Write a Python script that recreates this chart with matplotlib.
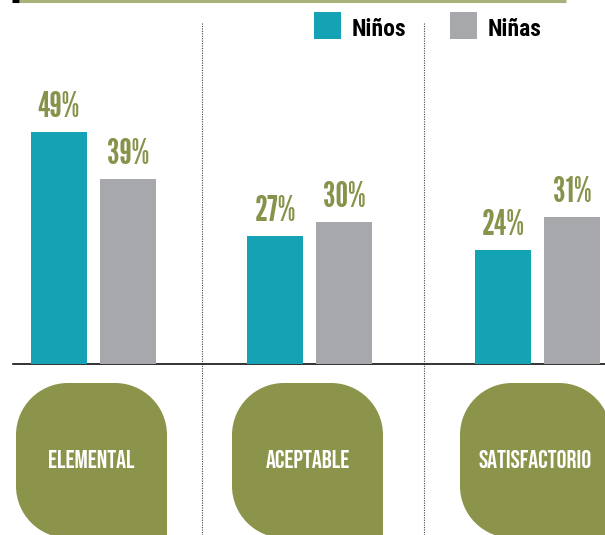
import matplotlib
matplotlib.use('Agg')
import matplotlib.pyplot as plt
from matplotlib.path import Path
from matplotlib.patches import PathPatch, Rectangle

# data
categorias = ['ELEMENTAL', 'ACEPTABLE', 'SATISFACTORIO']
series = ['Niños', 'Niñas']
ninos = [49, 27, 24]
ninas = [39, 30, 31]

teal = '#14a3b4'
gris = '#a7a8ab'
olivo = '#8b944a'
olivo_txt = '#88924a'
f_pct = ['League Gothic', 'DejaVu Sans']
f_cat = ['Bebas Neue', 'DejaVu Sans']
f_leg = ['Roboto Condensed', 'DejaVu Sans']

W, H = 605, 535
base_y = 363.5          # pixel row of the baseline
px_per_pct = 4.72
group_x = [93.5, 309.5, 537.5]
bar_w = 56
off = 34.5

fig = plt.figure(figsize=(W / 100, H / 100), dpi=100)
# decoration axes in pixel units (y down)
ax = fig.add_axes([0, 0, 1, 1])
ax.set_xlim(0, W)
ax.set_ylim(H, 0)
ax.axis('off')
# bars axes: same box, y in percent
axb = fig.add_axes([0, 0, 1, 1], sharex=ax)
axb.set_ylim(-(H - base_y) / px_per_pct, base_y / px_per_pct)
axb.patch.set_alpha(0)
axb.axis('off')

# top rule
ax.plot([19, 566], [1, 1], color='#aab07a', lw=2.2, solid_capstyle='butt')
ax.plot([12, 19], [1, 1], color='black', lw=2.2, solid_capstyle='butt')

# dotted separators
for i in range(len(group_x) - 1):
    xm = (group_x[i] + group_x[i + 1]) / 2
    ax.plot([xm, xm], [23, H], color='#444444', lw=0.8, linestyle=(0, (1, 1.2)))

# bars
xs1 = [g - off for g in group_x]
xs2 = [g + off for g in group_x]
b1 = axb.bar(xs1, ninos, width=bar_w, color=teal, zorder=3)
b2 = axb.bar(xs2, ninas, width=bar_w, color=gris, zorder=3)
for bars, vals in ((b1, ninos), (b2, ninas)):
    for r, v in zip(bars, vals):
        axb.annotate(f'{v}%', (r.get_x() + r.get_width() / 2, v),
                     xytext=(0, 10.8), textcoords='offset points',
                     ha='center', va='baseline', fontsize=25.5,
                     family=f_pct, color=olivo_txt)

# baseline
ax.plot([13, W], [base_y, base_y], color='#111111', lw=1.2, zorder=4)

# legend
for xl, name, col in ((314, series[0], teal), (450, series[1], gris)):
    ax.add_patch(Rectangle((xl, 12), 27, 27, color=col, lw=0))
    ax.text(xl + 38, 36, name, ha='left', va='baseline', fontsize=17,
            fontweight='bold', family=f_leg, color='black')


def tab_shape(x0, y0, w, h, r):
    # rounded everywhere except bottom-right corner
    k = 0.5523 * r
    x1, y1 = x0 + w, y0 + h
    verts = [
        (x0 + r, y0),
        (x1 - r, y0),
        (x1 - r + k, y0), (x1, y0 + r - k), (x1, y0 + r),
        (x1, y1),
        (x0 + r, y1),
        (x0 + r - k, y1), (x0, y1 - r + k), (x0, y1 - r),
        (x0, y0 + r),
        (x0, y0 + r - k), (x0 + r - k, y0), (x0 + r, y0),
        (x0 + r, y0),
    ]
    codes = [Path.MOVETO, Path.LINETO,
             Path.CURVE4, Path.CURVE4, Path.CURVE4,
             Path.LINETO, Path.LINETO,
             Path.CURVE4, Path.CURVE4, Path.CURVE4,
             Path.LINETO,
             Path.CURVE4, Path.CURVE4, Path.CURVE4,
             Path.CLOSEPOLY]
    return Path(verts, codes)


shape_w = 151
for g, cat in zip(group_x, categorias):
    cx = g - 2
    ax.add_patch(PathPatch(tab_shape(cx - shape_w / 2, 383, shape_w, 155, 52),
                           facecolor=olivo, edgecolor='none'))
    ax.text(cx, 468, cat, ha='center', va='baseline', fontsize=17.8,
            family=f_cat, color='white')

fig.savefig('out.png', dpi=100)
